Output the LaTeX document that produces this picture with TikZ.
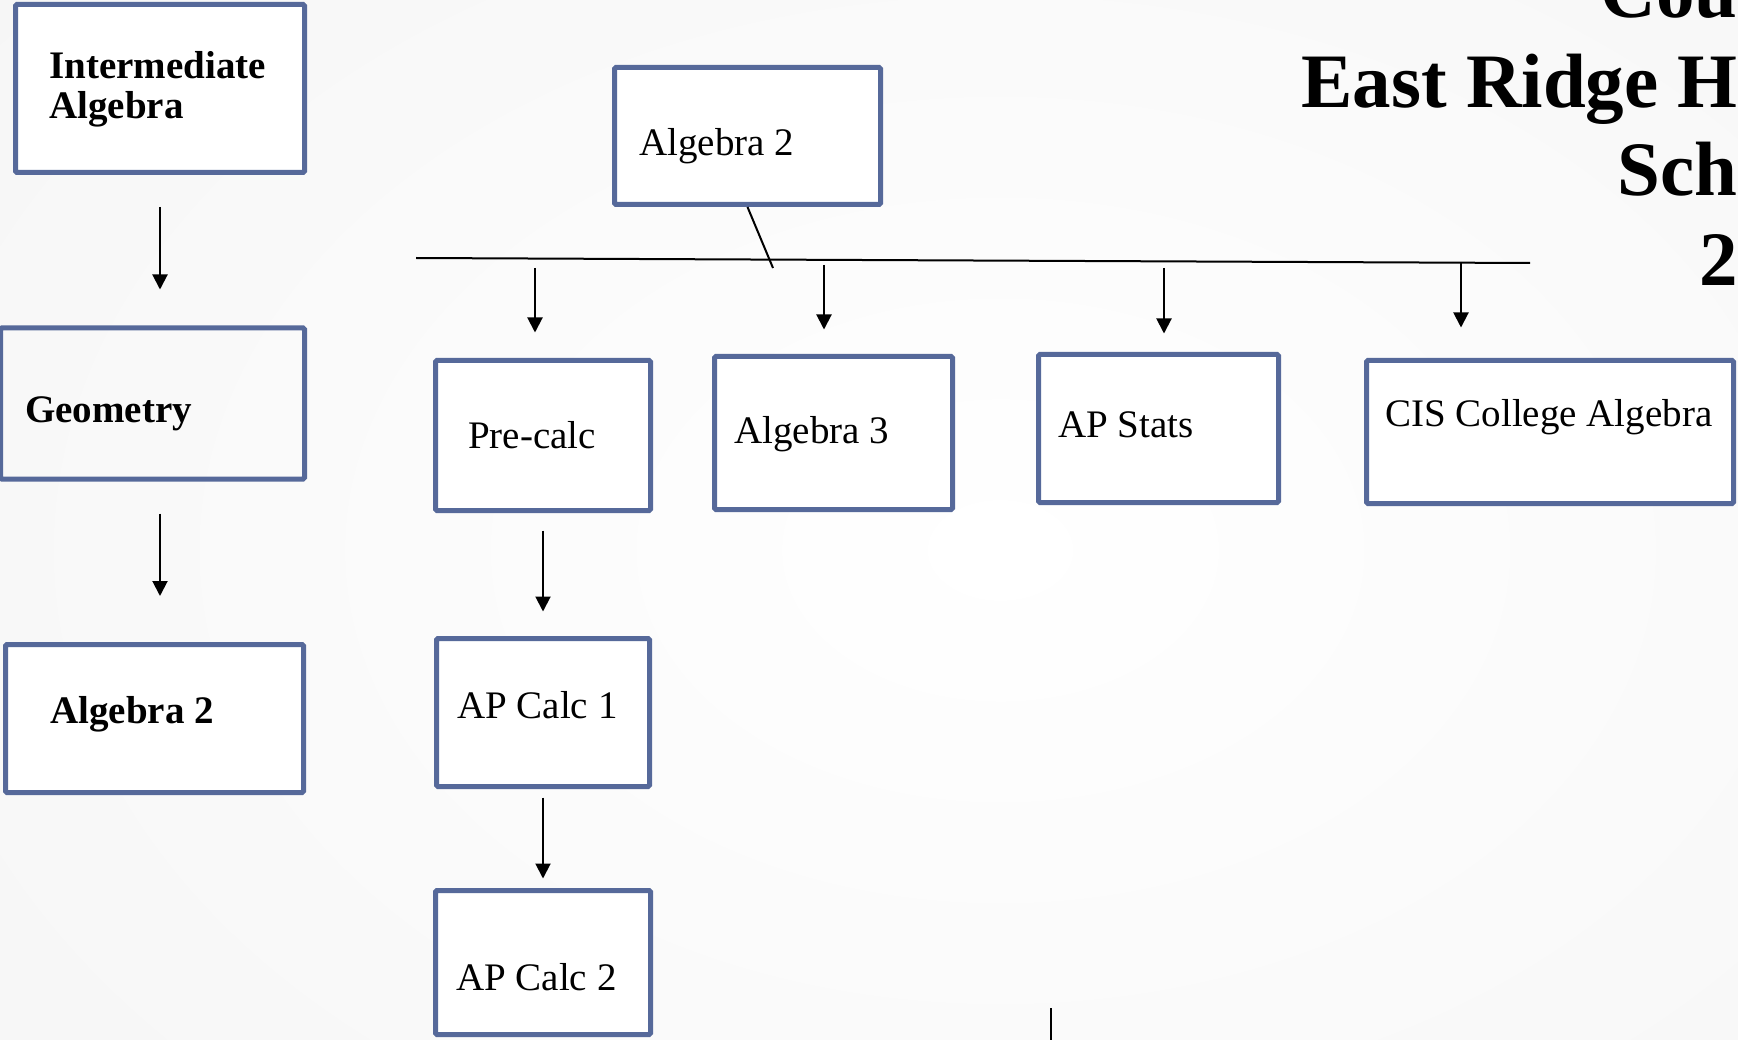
\documentclass[tikz,border=0pt]{standalone}
\usepackage{fontspec}
\setmainfont{Liberation Serif}
\usetikzlibrary{arrows.meta}
\definecolor{boxblue}{RGB}{86,105,154}
\begin{document}
\begin{tikzpicture}[x=1pt,y=-1pt,
  box/.style={draw=boxblue,line width=5pt,fill=white,rounded corners=1.5pt,inner sep=0pt},
  lbl/.style={anchor=base west,inner sep=0pt,font=\fontsize{39}{42}\selectfont},
  blbl/.style={anchor=base west,inner sep=0pt,font=\fontsize{39}{42}\selectfont\bfseries},
  arr/.style={line width=2pt,-{Triangle[width=15pt,length=15pt]}},
  ln/.style={line width=2pt},
  ttl/.style={anchor=base east,inner sep=0pt,font=\fontsize{77}{89}\selectfont\bfseries}]
\useasboundingbox (0,0) rectangle (1738,1040);
\clip (0,0) rectangle (1738,1040);
% background
\shade[inner color=white,outer color=gray!14] (-1600,-1250) rectangle (3600,2350);

% boxes
\node[box,minimum width=289pt,minimum height=168pt] (ia) at (160,88.5) {};
\node[box,fill=none,minimum width=304pt,minimum height=151pt] (geo) at (152.5,403.5) {};
\node[box,minimum width=298pt,minimum height=148pt] (alg2l) at (154.5,718.5) {};
\node[box,minimum width=266pt,minimum height=137pt] (alg2t) at (747.5,136) {};
\node[box,minimum width=215pt,minimum height=150pt] (pc) at (543,435.5) {};
\node[box,minimum width=238pt,minimum height=153pt] (alg3) at (833.5,433) {};
\node[box,minimum width=240pt,minimum height=148pt] (stats) at (1158.5,428.5) {};
\node[box,minimum width=367pt,minimum height=143pt] (cis) at (1550,432) {};
\node[box,minimum width=213pt,minimum height=148pt] (ac1) at (543,712.5) {};
\node[box,minimum width=215pt,minimum height=144pt] (ac2) at (543,962.5) {};

% labels
\node[blbl] (tia1) at (49,79) {Intermediate};
\node[blbl] (tia2) at (49,119) {Algebra};
\node[blbl] (tgeo) at (25,423) {Geometry};
\node[blbl] (talg2l) at (50,723) {Algebra 2};
\node[lbl] (talg2t) at (639,156) {Algebra 2};
\node[lbl] (tpc) at (468,449) {Pre-calc};
\node[lbl] (talg3) at (734,443) {Algebra 3};
\node[lbl] (tstats) at (1058,438) {AP Stats};
\node[lbl] (tcis) at (1385,427) {CIS College Algebra};
\node[lbl] (tac1) at (457,718) {AP Calc 1};
\node[lbl] (tac2) at (456,990) {AP Calc 2};

% title (cut off at the right edge)
\node[ttl] (t1) at (1738,18) {Cou};
\node[ttl] (t2) at (1738,108) {East Ridge H};
\node[ttl] (t3) at (1738,196) {Sch};
\node[ttl] (t4) at (1738,286) {2};

% left column arrows
\draw[arr,shorten <=32pt,shorten >=36pt] (ia.south) -- (ia.south |- geo.north);
\draw[arr,shorten <=32pt,shorten >=46pt] (ia.south |- geo.south) -- (ia.south |- alg2l.north);

% calc column arrows
\draw[arr,shorten <=17.5pt,shorten >=24.5pt] (pc.south) -- (ac1.north);
\draw[arr,shorten <=8.5pt,shorten >=9.5pt] (ac1.south) -- (ac2.north);

% bus
\coordinate (busL) at (416,258);
\coordinate (busR) at (1530,263);
\coordinate (busJ) at (773,268);
\draw[ln] (busL) -- (busR);
\draw[ln] (alg2t.south) -- (busJ);

\coordinate (d1) at (535,268);
\coordinate (d2) at (824,265);
\coordinate (d3) at (1164,268);
\coordinate (d4) at (1461,263);
\draw[arr,shorten >=25.5pt] (d1) -- (d1 |- pc.north);
\draw[arr,shorten >=24.5pt] (d2) -- (d2 |- alg3.north);
\draw[arr,shorten >=18.5pt] (d3) -- (d3 |- stats.north);
\draw[arr,shorten >=30.5pt] (d4) -- (d4 |- cis.north);

% bottom edge mark
\coordinate (m1) at (1051,1008);
\coordinate (m2) at (1051,1040);
\draw[line width=1.5pt] (m1) -- (m2);
\end{tikzpicture}
\end{document}
